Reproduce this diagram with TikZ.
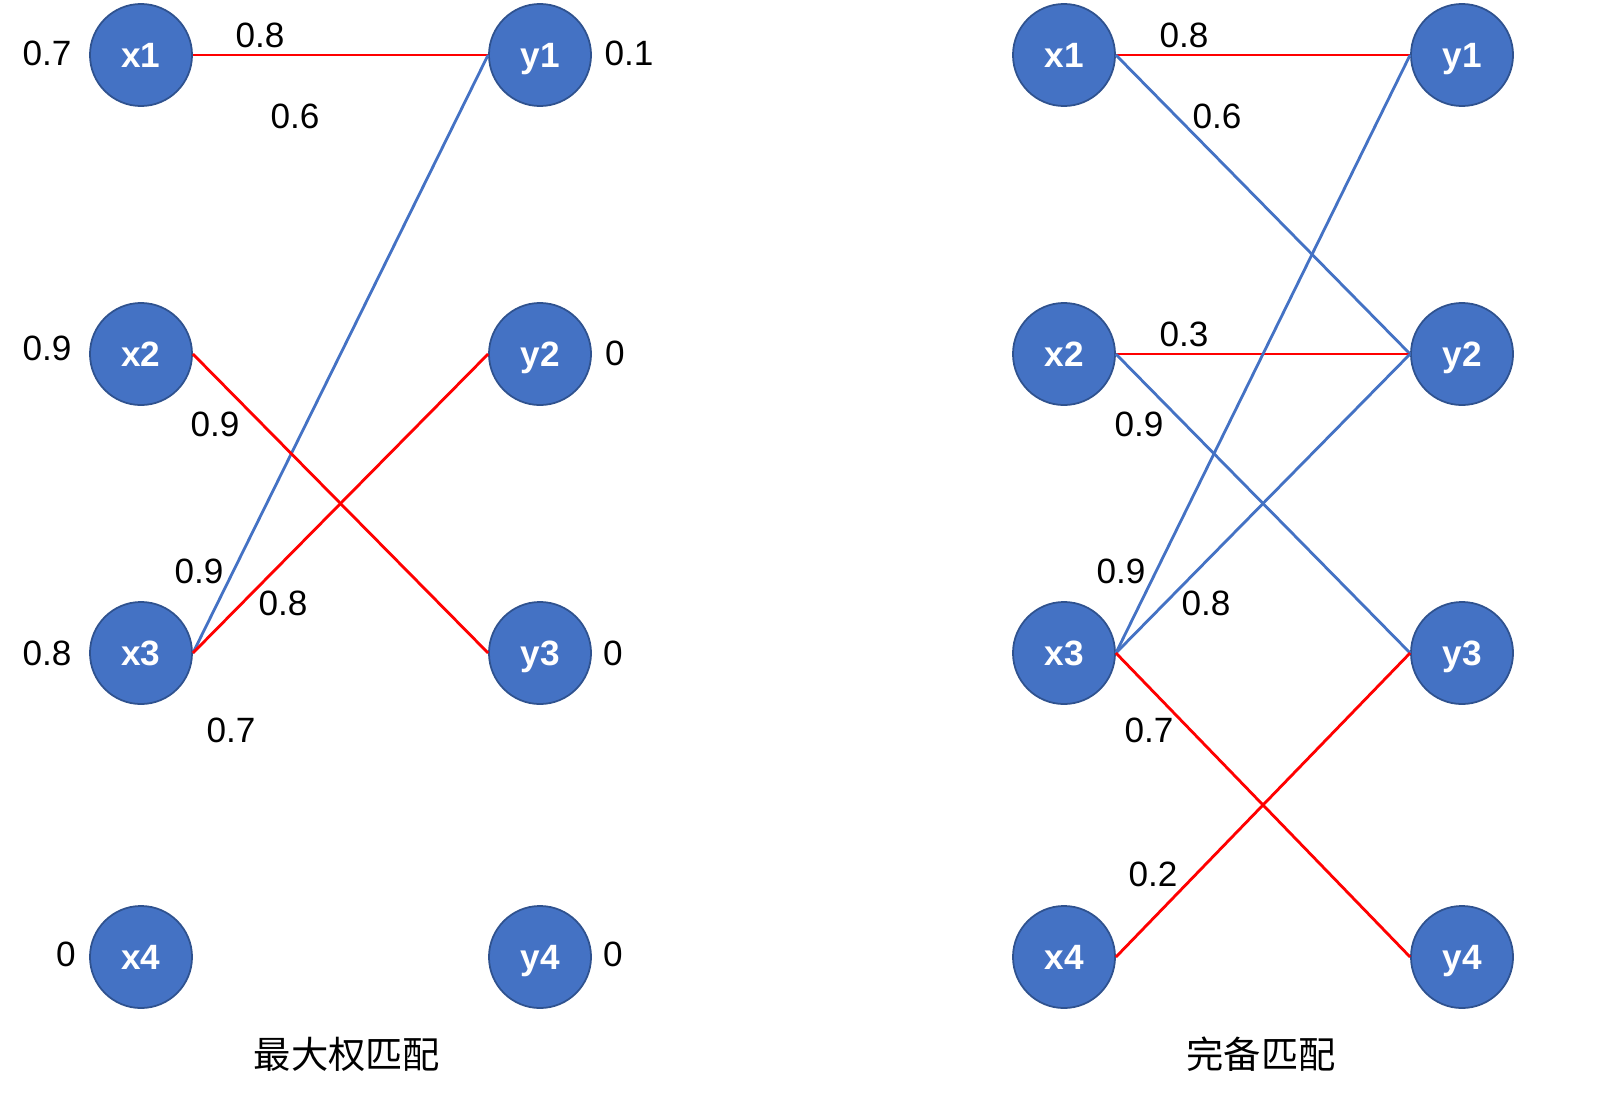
\documentclass[tikz,border=0pt]{standalone}
\usepackage{fontspec}
\setmainfont{Liberation Sans}
\newfontfamily\cjkfont{Noto Sans CJK SC}
\definecolor{nodeblue}{HTML}{4472C4}
\definecolor{nodeedge}{HTML}{2F528F}
\tikzset{
    vert/.style={circle, fill=nodeblue, draw=nodeedge, line width=0.5pt, minimum size=1.02cm, inner sep=0pt, text height=0.72em, text depth=0pt, text=white, font=\fontsize{10}{12}\selectfont\bfseries},
    lbl/.style={font=\fontsize{10}{12}\selectfont},
    captionlbl/.style={font=\fontsize{10.6}{12}\selectfont\cjkfont},
    redline/.style={draw=red, line width=0.8pt},
    blueline/.style={draw=nodeblue, line width=0.8pt}
}
\begin{document}
\begin{tikzpicture}[x=0.01cm, y=-0.01cm]
    \useasboundingbox (0,0) rectangle (1600,1100);

        % left graph
        \node[vert] (lx1) at (141,55)  {x1};
        \node[vert] (lx2) at (141,354) {x2};
        \node[vert] (lx3) at (141,653) {x3};
        \node[vert] (lx4) at (141,957) {x4};
        \node[vert] (ly1) at (540,55)  {y1};
        \node[vert] (ly2) at (540,354) {y2};
        \node[vert] (ly3) at (540,653) {y3};
        \node[vert] (ly4) at (540,957) {y4};

        \draw[redline]  (lx1.east) -- (ly1.west);
        \draw[blueline] (lx3.east) -- (ly1.west);
        \draw[redline]  (lx2.east) -- (ly3.west);
        \draw[redline]  (lx3.east) -- (ly2.west);

        % right graph
        \node[vert] (rx1) at (1064,55)  {x1};
        \node[vert] (rx2) at (1064,354) {x2};
        \node[vert] (rx3) at (1064,653) {x3};
        \node[vert] (rx4) at (1064,957) {x4};
        \node[vert] (ry1) at (1462,55)  {y1};
        \node[vert] (ry2) at (1462,354) {y2};
        \node[vert] (ry3) at (1462,653) {y3};
        \node[vert] (ry4) at (1462,957) {y4};

        \draw[redline]  (rx1.east) -- (ry1.west);
        \draw[blueline] (rx1.east) -- (ry2.west);
        \draw[redline]  (rx2.east) -- (ry2.west);
        \draw[blueline] (rx2.east) -- (ry3.west);
        \draw[blueline] (rx3.east) -- (ry1.west);
        \draw[blueline] (rx3.east) -- (ry2.west);
        \draw[redline]  (rx3.east) -- (ry4.west);
        \draw[redline]  (rx4.east) -- (ry3.west);

        % Add text labels
        \node[lbl] (lwx1) at (47,53)   {0.7};
        \node[lbl] (lwx2) at (47,348)  {0.9};
        \node[lbl] (lwx3) at (47,653)  {0.8};
        \node[lbl] (lwx4) at (66,954)  {0};
        \node[lbl] (lwy1) at (629,53)  {0.1};
        \node[lbl] (lwy2) at (615,353) {0};
        \node[lbl] (lwy3) at (613,653) {0};
        \node[lbl] (lwy4) at (613,954) {0};

        \node[lbl] (le11) at (260,35)  {0.8};
        \node[lbl] (le12) at (295,116) {0.6};
        \node[lbl] (le23) at (215,424) {0.9};
        \node[lbl] (le31) at (199,571) {0.9};
        \node[lbl] (le32) at (283,603) {0.8};
        \node[lbl] (le34) at (231,730) {0.7};
        \node[captionlbl] (lcap) at (347,1054) {最大权匹配};

        \node[lbl] (re11) at (1184,35)  {0.8};
        \node[lbl] (re12) at (1217,116) {0.6};
        \node[lbl] (re22) at (1184,334) {0.3};
        \node[lbl] (re23) at (1139,424) {0.9};
        \node[lbl] (re31) at (1121,571) {0.9};
        \node[lbl] (re32) at (1206,603) {0.8};
        \node[lbl] (re34) at (1149,730) {0.7};
        \node[lbl] (re43) at (1153,874) {0.2};
        \node[captionlbl] (rcap) at (1261,1054) {完备匹配};
    \end{tikzpicture}
\end{document}
